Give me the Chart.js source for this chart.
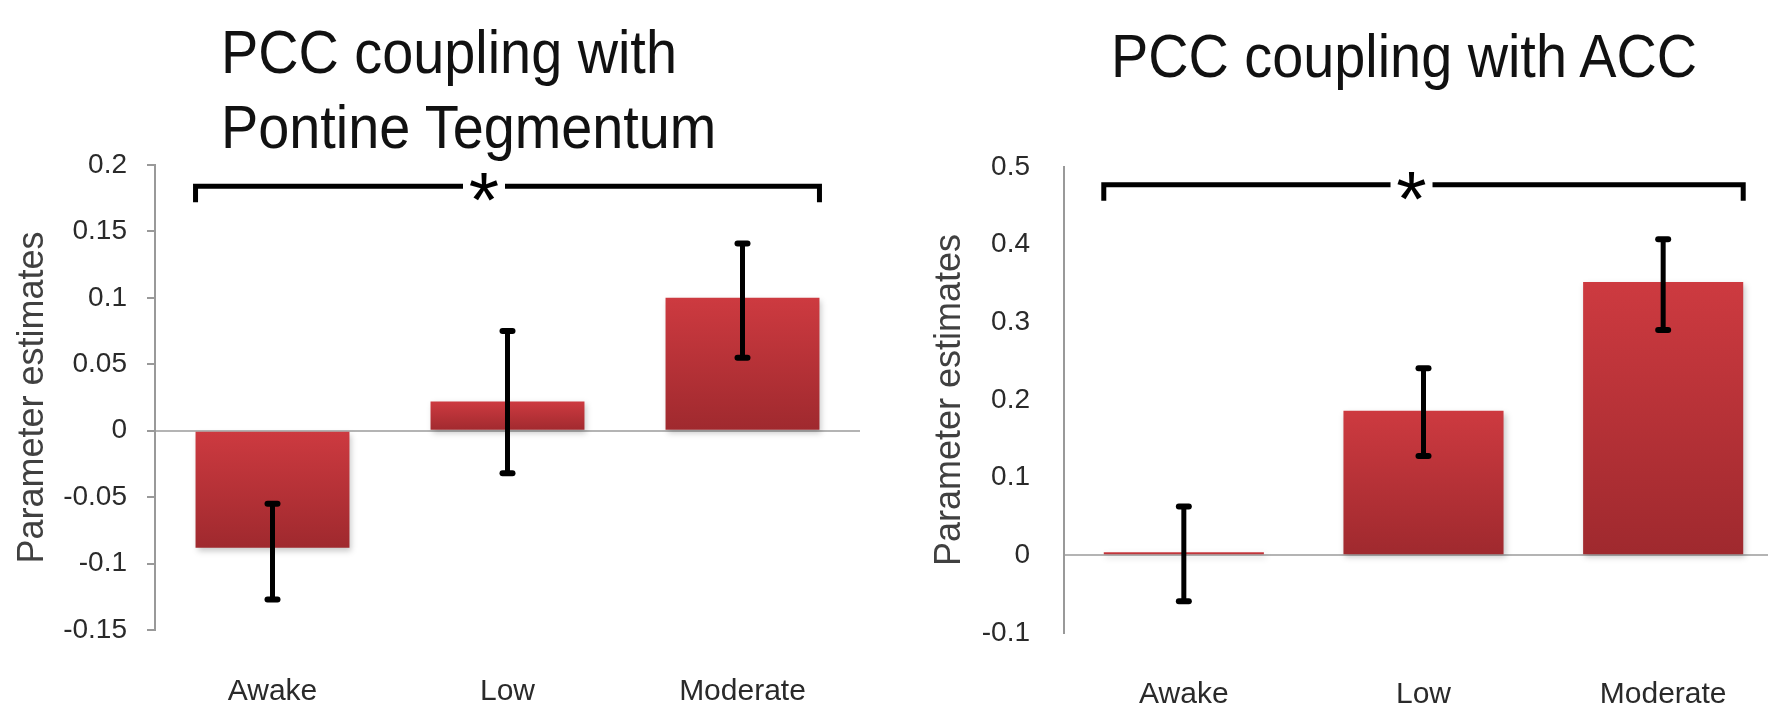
<!DOCTYPE html>
<html>
<head>
<meta charset="utf-8">
<script src="https://cdn.jsdelivr.net/npm/chart.js@4.4.1/dist/chart.umd.min.js"></script>
<style>
  html, body { margin: 0; padding: 0; background: #fff; }
  body { width: 1768px; height: 707px; overflow: hidden; position: relative; font-family: "Liberation Sans", Arial, sans-serif; }
  canvas { position: absolute; top: 0; }
  #c1 { left: 0; }
  #c2 { left: 909px; }
  .title { position: absolute; font-size: 62px; line-height: 75px; color: #111; transform: scaleX(0.9); transform-origin: left top; white-space: nowrap; }
</style>
</head>
<body>
<div class="title" style="left:221px;top:14px">PCC coupling with<br>Pontine Tegmentum</div>
<div class="title" style="left:1111px;top:18px">PCC coupling with ACC</div>
<canvas id="c1" width="880" height="707"></canvas>
<canvas id="c2" width="874" height="707"></canvas>
<script>
const categories = ['Awake', 'Low', 'Moderate'];

// PCC coupling with Pontine Tegmentum
const ptValues = [-0.088, 0.022, 0.100];
const ptErrHigh = [-0.055, 0.075, 0.141];
const ptErrLow = [-0.127, -0.032, 0.055];
const ptTicks = [-0.15, -0.1, -0.05, 0, 0.05, 0.1, 0.15, 0.2];
const ptBracket = { y: 0.184, star: 0.9 };

// PCC coupling with ACC
const accValues = [0.004, 0.186, 0.352];
const accErrHigh = [0.063, 0.241, 0.407];
const accErrLow = [-0.059, 0.128, 0.290];
const accTicks = [-0.1, 0, 0.1, 0.2, 0.3, 0.4, 0.5];
const accBracket = { y: 0.477, star: 0.95 };

const FONT = "'Liberation Sans', Arial, sans-serif";

function barFill(c) {
  const chart = c.chart, y = chart.scales.y;
  if (!y || c.raw == null || !chart.chartArea) return '#bb3338';
  const p0 = y.getPixelForValue(0), p1 = y.getPixelForValue(c.raw);
  const g = chart.ctx.createLinearGradient(0, Math.min(p0, p1), 0, Math.max(p0, p1) + 1);
  g.addColorStop(0, '#cd3a40');
  g.addColorStop(1, '#9f292e');
  return g;
}

// shadow under bars, then error bars + significance bracket on top
const errorBars = {
  id: 'errorBars',
  beforeDatasetsDraw(chart) {
    const ctx = chart.ctx;
    ctx.save();
    ctx.shadowColor = 'rgba(0,0,0,0.22)';
    ctx.shadowBlur = 6;
    ctx.shadowOffsetX = 2;
    ctx.shadowOffsetY = 3;
  },
  afterDatasetsDraw(chart, args, opts) {
    const ctx = chart.ctx;
    ctx.restore();
    const x = chart.scales.x, y = chart.scales.y;
    const bars = chart.getDatasetMeta(0).data;
    ctx.save();
    ctx.strokeStyle = '#000';
    bars.forEach((bar, i) => {
      const top = y.getPixelForValue(opts.high[i]);
      const bot = y.getPixelForValue(opts.low[i]);
      ctx.lineWidth = 5;
      ctx.lineCap = 'butt';
      ctx.beginPath();
      ctx.moveTo(bar.x, top);
      ctx.lineTo(bar.x, bot);
      ctx.stroke();
      ctx.lineWidth = 6;
      ctx.lineCap = 'round';
      [top, bot].forEach(v => {
        ctx.beginPath();
        ctx.moveTo(bar.x - 5, v);
        ctx.lineTo(bar.x + 5, v);
        ctx.stroke();
      });
    });

    const b = opts.bracket;
    const by = y.getPixelForValue(b.y);
    const first = bars[0], last = bars[bars.length - 1];
    const x0 = first.x - first.width / 2, x1 = last.x + last.width / 2;
    const sx = x.getPixelForValue(b.star);
    const gap = 21;
    ctx.lineWidth = 5;
    ctx.lineCap = 'butt';
    ctx.lineJoin = 'miter';
    ctx.beginPath();
    ctx.moveTo(x0, by + 16);
    ctx.lineTo(x0, by);
    ctx.lineTo(sx - gap, by);
    ctx.stroke();
    ctx.beginPath();
    ctx.moveTo(sx + gap, by);
    ctx.lineTo(x1, by);
    ctx.lineTo(x1, by + 16);
    ctx.stroke();

    ctx.font = '78px ' + FONT;
    ctx.fillStyle = '#000';
    ctx.textAlign = 'center';
    ctx.textBaseline = 'alphabetic';
    const m = ctx.measureText('*');
    ctx.fillText('*', sx, by + (m.actualBoundingBoxAscent - m.actualBoundingBoxDescent) / 2 + 1);
    ctx.restore();
  }
};

function makeChart(id, values, high, low, ticks, bracket, o) {
  return new Chart(document.getElementById(id), {
    type: 'bar',
    data: {
      labels: categories,
      datasets: [{
        data: values,
        backgroundColor: barFill,
        borderWidth: 0,
        categoryPercentage: 1,
        barPercentage: o.barPct
      }]
    },
    options: {
      responsive: false,
      animation: false,
      layout: { padding: { top: o.top, right: o.right, left: 0, bottom: 0 } },
      plugins: {
        legend: { display: false },
        tooltip: { enabled: false },
        errorBars: { high, low, bracket }
      },
      scales: {
        x: {
          grid: { display: false, drawTicks: false },
          border: { display: false },
          ticks: { font: { size: 30, family: FONT }, color: '#2a2a2a', padding: 44 },
          afterFit: s => { s.height = o.xh; }
        },
        y: {
          min: ticks[0],
          max: ticks[ticks.length - 1],
          afterBuildTicks: s => { s.ticks = ticks.map(v => ({ value: v })); },
          ticks: {
            callback: v => String(v),
            font: { size: 28, family: FONT },
            color: '#2a2a2a',
            padding: o.tickPad
          },
          grid: {
            color: c => (c.tick && c.tick.value === 0) ? '#b4b4b4' : 'rgba(0,0,0,0)',
            lineWidth: 2,
            drawTicks: o.drawTicks,
            tickLength: 8,
            tickColor: '#999'
          },
          border: { color: '#999', width: 2 },
          title: {
            display: true,
            text: 'Parameter estimates',
            font: { size: 36, family: FONT },
            color: '#404040',
            padding: { top: o.titlePad, bottom: 0 }
          },
          afterFit: s => { s.width = 155; }
        }
      }
    },
    plugins: [errorBars]
  });
}

makeChart('c1', ptValues, ptErrHigh, ptErrLow, ptTicks, ptBracket,
  { top: 165, right: 20, xh: 77, barPct: 0.655, tickPad: 20, drawTicks: true, titlePad: 11 });
makeChart('c2', accValues, accErrHigh, accErrLow, accTicks, accBracket,
  { top: 167, right: 0, xh: 74, barPct: 0.668, tickPad: 34, drawTicks: false, titlePad: 19 });
</script>
</body>
</html>
